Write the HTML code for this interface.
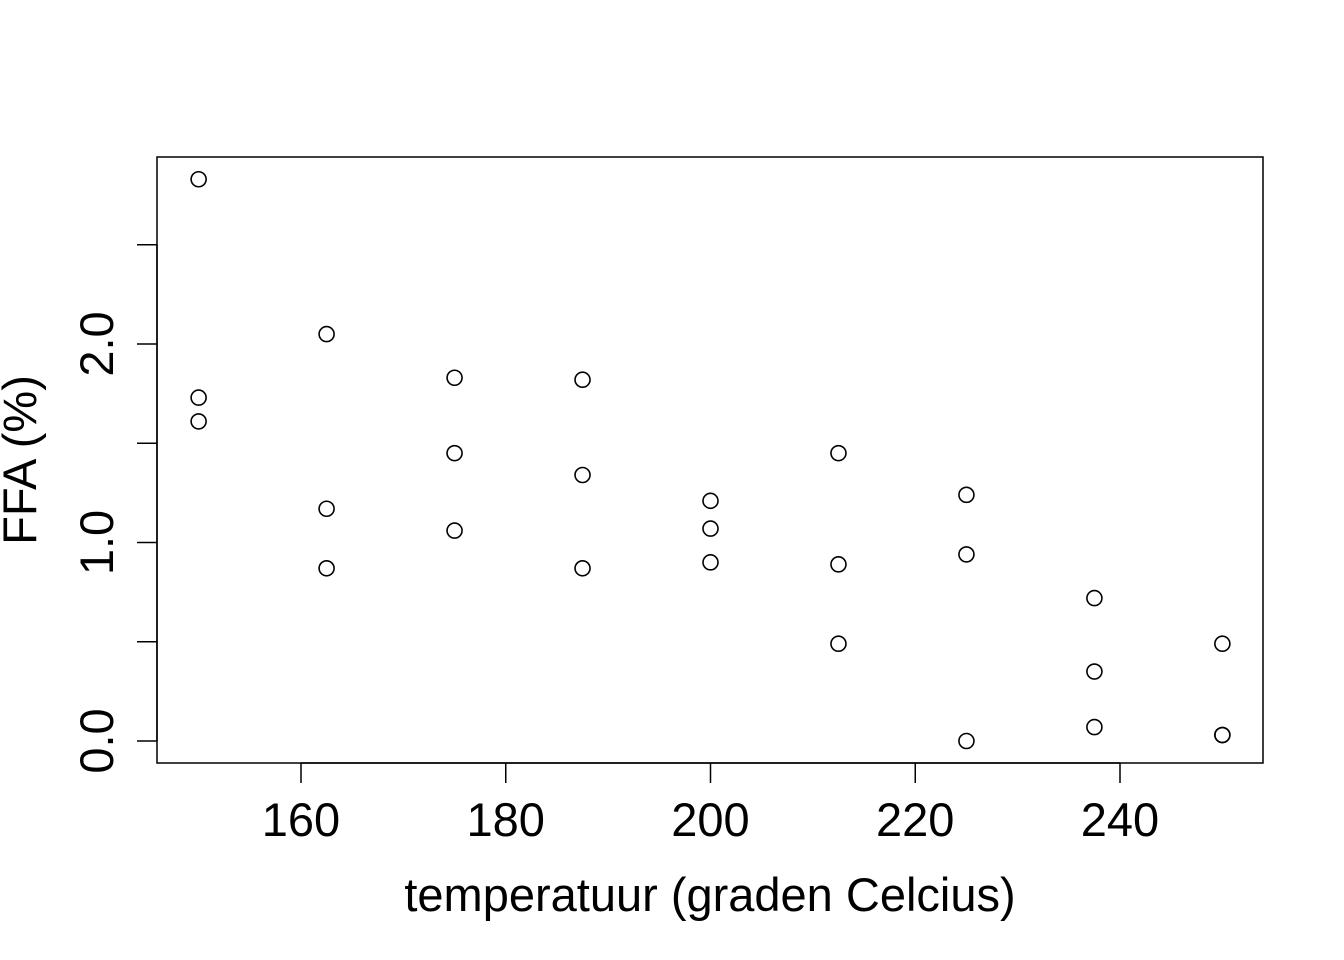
<!DOCTYPE html>
<html><head><meta charset="utf-8"><style>
html,body{margin:0;padding:0;background:#fff;}
svg{display:block;font-family:"Liberation Sans",Arial,sans-serif;}
</style></head><body>
<svg id="chart" width="1344" height="960" viewBox="0 0 1344 960">
<rect x="157" y="157" width="1106" height="606" fill="none" stroke="#000" stroke-width="1.5"/>
<g id="xaxis"></g>
<g id="yaxis"></g>
<g id="points"></g>
<text x="710" y="911" font-size="47" text-anchor="middle">temperatuur (graden Celcius)</text>
<text transform="translate(36,460) rotate(-90)" font-size="47" text-anchor="middle">FFA (%)</text>
</svg>
<script>
const temps = [150,150,150,162.5,162.5,162.5,175,175,175,187.5,187.5,187.5,200,200,200,212.5,212.5,212.5,225,225,225,237.5,237.5,237.5,250,250,250];
const ffa = [2.83,1.73,1.61,2.05,1.17,0.87,1.83,1.45,1.06,1.82,1.34,0.87,1.21,1.07,0.90,1.45,0.89,0.49,1.24,0.94,0.00,0.72,0.35,0.07,0.49,0.03,0.03];
const xTicks = [160,180,200,220,240];
const yTicks = [0,0.5,1,1.5,2,2.5];
const yTickLabels = ["0.0","","1.0","","2.0",""];

const NS = "http://www.w3.org/2000/svg";
function xs(v){return 301 + (v-160)*(1120-301)/80;}
function ys(v){return 741 - v*(741-344)/2;}
function mk(tag, attrs, parent){const e=document.createElementNS(NS,tag);for(const k in attrs)e.setAttribute(k,attrs[k]);parent.appendChild(e);return e;}

const xg=document.getElementById('xaxis');
mk('line',{x1:xs(xTicks[0]),x2:xs(xTicks[xTicks.length-1]),y1:763,y2:763,stroke:'#000','stroke-width':1.5},xg);
xTicks.forEach(t=>{
  const l=mk('line',{x1:xs(t),x2:xs(t),y1:763,y2:783,stroke:'#000','stroke-width':1.5},xg);
  
  
  const tx=mk('text',{x:xs(t),y:836,'font-size':47,'text-anchor':'middle'},xg);
  tx.textContent=t;
  
  
});

const yg=document.getElementById('yaxis');
mk('line',{x1:157,x2:157,y1:ys(yTicks[0]),y2:ys(yTicks[yTicks.length-1]),stroke:'#000','stroke-width':1.5},yg);
yTicks.forEach((t,i)=>{
  const l=mk('line',{x1:137,x2:157,y1:ys(t),y2:ys(t),stroke:'#000','stroke-width':1.5},yg);
  
  
  if(yTickLabels[i]){
    const tx=mk('text',{transform:`translate(113,${ys(t)}) rotate(-90)`,'font-size':47,'text-anchor':'middle'},yg);
    tx.textContent=yTickLabels[i];
    
    
  }
});

const pg=document.getElementById('points');
temps.forEach((t,i)=>{
  const c=mk('circle',{cx:xs(t),cy:ys(ffa[i]),r:7.5,fill:'none',stroke:'#000','stroke-width':1.6},pg);
  
  
});
</script>
</body></html>
